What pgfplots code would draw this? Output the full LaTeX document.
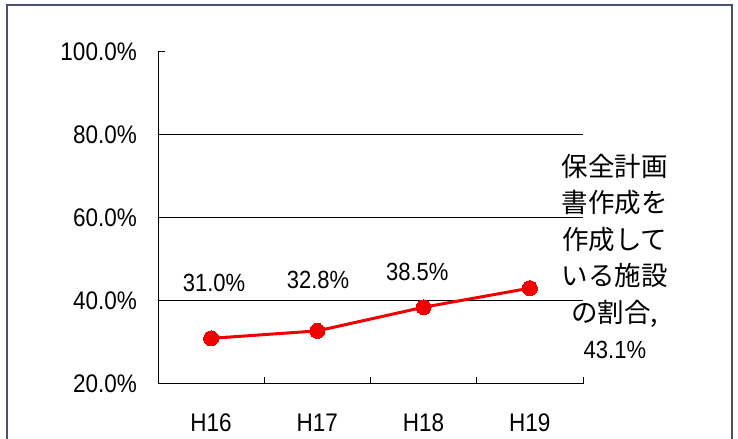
\documentclass[border=0pt]{standalone}
\usepackage{graphicx}
\usepackage{fontspec}
\setmainfont{Liberation Sans}
\newfontfamily\cjk{Noto Sans CJK JP}
\usepackage{pgfplots}
\pgfplotsset{compat=1.18}
\definecolor{framec}{HTML}{4A5070}
\definecolor{linered}{HTML}{F00000}
\newcommand\vs[1]{\scalebox{1}[1.13]{#1}}
\begin{document}
\begin{tikzpicture}
\useasboundingbox (0,0) rectangle (738bp,439bp);
\fill[white] (0,0) rectangle (738bp,439bp);
\draw[framec, line width=2bp] (7bp,-10bp) rectangle (732bp,434bp);
\begin{axis}[
  at={(158bp,55bp)}, anchor=south west,
  scale only axis, width=425bp, height=332bp,
  xmin=0, xmax=4, ymin=20, ymax=100,
  axis x line=bottom, axis y line=left,
  axis line style={-, line width=1bp, black},
  xtick={0.5,1.5,2.5,3.5}, xticklabels={\vs{H16},\vs{H17},\vs{H18},\vs{H19}},
  major x tick style={draw=none},
  minor xtick={1,2,3,4},
  minor tick length=7bp,
  tick align=inside,
  tick style={black, line width=1bp},
  ytick={20,40,60,80,100},
  yticklabels={\vs{20.0\%},\vs{40.0\%},\vs{60.0\%},\vs{80.0\%},\vs{100.0\%}},
  major tick length=7bp,
  extra y ticks={40,60,80}, extra y tick labels={},
  extra y tick style={grid=major},
  grid style={black, line width=1bp},
  xticklabel style={font=\fontsize{22.5bp}{26bp}\selectfont, anchor=center, inner sep=0pt, yshift=-39bp},
  yticklabel style={font=\fontsize{22.5bp}{26bp}\selectfont, anchor=east, inner sep=0pt, xshift=-21bp},
  clip=false,
]
\addplot[linered, line width=3bp, mark=*, mark size=7.5bp,
  mark options={fill=linered, draw=linered, line width=0pt}]
  coordinates {(0.5,31.0) (1.5,32.8) (2.5,38.5) (3.5,43.1)};
\node[font=\fontsize{22bp}{26bp}\selectfont, inner sep=0pt] at (axis cs:0.527,44.3) {\vs{31.0\%}};
\node[font=\fontsize{22bp}{26bp}\selectfont, inner sep=0pt] at (axis cs:1.506,45.1) {\vs{32.8\%}};
\node[font=\fontsize{22bp}{26bp}\selectfont, inner sep=0pt] at (axis cs:2.44,47.0) {\vs{38.5\%}};
\node[font=\cjk\fontsize{26.5bp}{36.5bp}\selectfont, inner sep=0pt, align=center]
  at (axis cs:4.30,50.7)
  {保全計画\\書作成を\\作成して\\いる施設\\の割合,\\{\rmfamily\fontsize{22bp}{36.5bp}\selectfont \vs{43.1\%}}};
\end{axis}
\end{tikzpicture}
\end{document}
